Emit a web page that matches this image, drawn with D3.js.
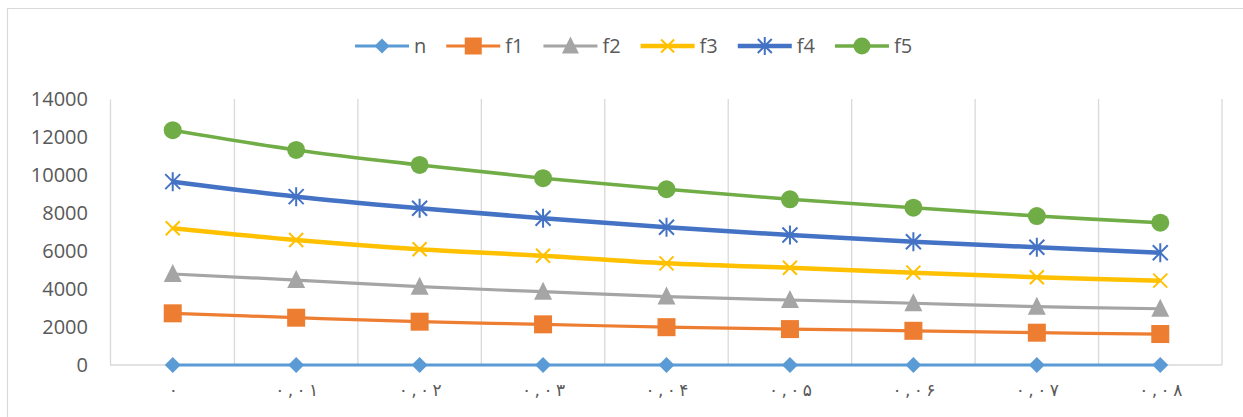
<!DOCTYPE html>
<html>
<head>
<meta charset="utf-8">
<script src="https://cdn.jsdelivr.net/npm/d3@7"></script>
<style>
  html, body { margin: 0; padding: 0; background: #ffffff; }
  svg { display: block; }
  text { font-family: "Open Sans", "DejaVu Sans", sans-serif; fill: #595959; }
</style>
</head>
<body>
<svg id="chart" width="1243" height="417"></svg>
<script>
// Category labels (Persian digits)
const categories = ["۰", "۰,۰۱", "۰,۰۲", "۰,۰۳", "۰,۰۴", "۰,۰۵", "۰,۰۶", "۰,۰۷", "۰,۰۸"];
const yTicks = [0, 2000, 4000, 6000, 8000, 10000, 12000, 14000];

// Series values
const nVals  = [0, 0, 0, 0, 0, 0, 0, 0, 0];
const f1Vals = [2720, 2490, 2280, 2140, 1990, 1890, 1800, 1700, 1630];
const f2Vals = [4790, 4470, 4120, 3860, 3600, 3420, 3250, 3070, 2960];
const f3Vals = [7200, 6580, 6090, 5750, 5350, 5120, 4860, 4620, 4440];
const f4Vals = [9650, 8860, 8250, 7720, 7250, 6840, 6490, 6200, 5910];
const f5Vals = [12360, 11320, 10530, 9830, 9250, 8720, 8280, 7840, 7490];

const seriesNames = ["n", "f1", "f2", "f3", "f4", "f5"];
const seriesValues = [nVals, f1Vals, f2Vals, f3Vals, f4Vals, f5Vals];

const styles = {
  n:  { color: "#5B9BD5", width: 3.2, marker: "diamond" },
  f1: { color: "#ED7D31", width: 3.2, marker: "square" },
  f2: { color: "#A5A5A5", width: 3.2, marker: "triangle" },
  f3: { color: "#FFC000", width: 4.5, marker: "x" },
  f4: { color: "#4472C4", width: 4.5, marker: "star" },
  f5: { color: "#70AD47", width: 3.6, marker: "circle" }
};

const svg = d3.select("#chart");

// Outer chart frame (left and top edges)
svg.append("path")
  .attr("d", "M7.5,417 V8.5 H1243")
  .attr("fill", "none")
  .attr("stroke", "#d9d9d9")
  .attr("stroke-width", 1.2);

const plot = { left: 111, right: 1222, top: 99, bottom: 365 };

const x = d3.scalePoint().domain(categories).range([plot.left, plot.right]).padding(0.5);
const xBand = d3.scaleBand().domain(categories).range([plot.left, plot.right]);
const y = d3.scaleLinear().domain([0, 14000]).range([plot.bottom, plot.top]);

// Vertical gridlines between categories
svg.append("g")
  .selectAll("line")
  .data(categories.slice(1).concat(["__end"]))
  .join("line")
  .attr("x1", d => d === "__end" ? plot.right : xBand(d))
  .attr("x2", d => d === "__end" ? plot.right : xBand(d))
  .attr("y1", plot.top)
  .attr("y2", plot.bottom)
  .attr("stroke", "#d9d9d9")
  .attr("stroke-width", 1.3);

// Value axis
const yAxis = svg.append("g")
  .attr("transform", `translate(${plot.left - 1},0)`)
  .call(d3.axisLeft(y).tickValues(yTicks).tickSize(0).tickPadding(22).tickFormat(d3.format("d")));
yAxis.select(".domain").attr("stroke", "#d9d9d9").attr("stroke-width", 1.3);
yAxis.selectAll("text").style("font-size", "20px").attr("fill", "#595959");

// Category axis: characters spaced apart, as the labels are set in a wide-tracked face
const spaced = d => Array.from(d).join("\u2009");
const xAxis = svg.append("g")
  .attr("transform", `translate(0,${plot.bottom})`)
  .call(d3.axisBottom(x).tickSize(0).tickPadding(19).tickFormat(spaced));
xAxis.select(".domain").attr("d", `M${plot.left - 1},0H${plot.right}`).attr("stroke", "#d9d9d9").attr("stroke-width", 1.3);
xAxis.selectAll("text")
  .style("font-family", "'DejaVu Sans', sans-serif")
  .style("font-size", "17px")
  .attr("fill", "#595959");

// Marker shapes
function drawMarker(g, type, color, size) {
  const s = size / 2;
  if (type === "diamond") {
    g.append("path").attr("d", `M0,${-s} L${s},0 L0,${s} L${-s},0Z`).attr("fill", color);
  } else if (type === "square") {
    g.append("rect").attr("x", -s).attr("y", -s).attr("width", size).attr("height", size).attr("fill", color);
  } else if (type === "triangle") {
    g.append("path").attr("d", `M0,${-s - 1} L${s},${s - 1} L${-s},${s - 1}Z`).attr("fill", color);
  } else if (type === "circle") {
    g.append("circle").attr("r", s).attr("fill", color);
  } else if (type === "x") {
    g.append("path").attr("d", `M${-s},${-s} L${s},${s} M${-s},${s} L${s},${-s}`)
      .attr("stroke", color).attr("stroke-width", 2).attr("fill", "none");
  } else if (type === "star") {
    g.append("path").attr("d", `M${-s},${-s} L${s},${s} M${-s},${s} L${s},${-s} M0,${-s - 2} L0,${s + 2}`)
      .attr("stroke", color).attr("stroke-width", 2).attr("fill", "none");
  }
}

const markerSize = { diamond: 16, square: 18, triangle: 18, circle: 18, x: 14, star: 15 };

const line = d3.line()
  .x((d, i) => x(categories[i]))
  .y(d => y(d))
  .curve(d3.curveCatmullRom.alpha(0));

seriesNames.forEach((name, si) => {
  const st = styles[name];
  const vals = seriesValues[si];
  const g = svg.append("g");
  g.append("path")
    .attr("d", line(vals))
    .attr("fill", "none")
    .attr("stroke", st.color)
    .attr("stroke-width", st.width)
    .attr("stroke-linejoin", "round");
  vals.forEach((v, i) => {
    const mg = g.append("g").attr("transform", `translate(${x(categories[i])},${y(v)})`);
    drawMarker(mg, st.marker, st.color, markerSize[st.marker]);
  });
});

// Legend
const legend = svg.append("g");
let cursor = 355;
const legendY = 46;
seriesNames.forEach(name => {
  const st = styles[name];
  const item = legend.append("g");
  item.append("line")
    .attr("x1", cursor).attr("x2", cursor + 54)
    .attr("y1", legendY).attr("y2", legendY)
    .attr("stroke", st.color).attr("stroke-width", st.width);
  const mg = item.append("g").attr("transform", `translate(${cursor + 27},${legendY})`);
  drawMarker(mg, st.marker, st.color, markerSize[st.marker] - 1);
  const t = item.append("text")
    .attr("x", cursor + 59)
    .attr("y", legendY)
    .attr("dy", "0.35em")
    .style("font-size", "20px")
    .text(name);
  cursor += 59 + t.node().getComputedTextLength() + 20;
});
</script>
</body>
</html>
